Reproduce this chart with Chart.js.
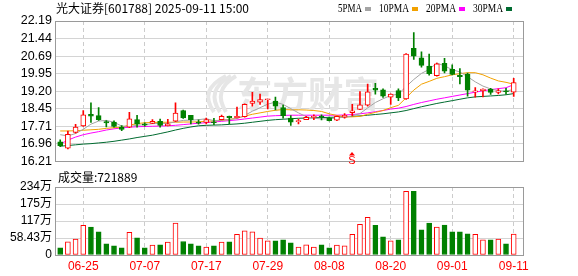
<!DOCTYPE html>
<html>
<head>
<meta charset="utf-8">
<script src="https://cdn.jsdelivr.net/npm/chart.js@4.4.1/dist/chart.umd.min.js"></script>
<style>
  body { margin: 0; background: #fff; }
  #wrap { position: relative; width: 578px; height: 276px; overflow: hidden; }
  canvas { position: absolute; left: 0; }
  #price-chart { top: 0; }
  #vol-chart { top: 166px; }
</style>
</head>
<body>
<div id="wrap">
  <canvas id="price-chart" width="578" height="172"></canvas>
  <canvas id="vol-chart" width="578" height="110"></canvas>
</div>
<script>
const title = "光大证券[601788] 2025-09-11 15:00";
const volTitle = "成交量:721889";

const dates = [
  "06-20", "06-23", "06-24", "06-25", "06-26", "06-27", "06-30", "07-01", "07-02", "07-03",
  "07-04", "07-07", "07-08", "07-09", "07-10", "07-11", "07-14", "07-15", "07-16", "07-17",
  "07-18", "07-21", "07-22", "07-23", "07-24", "07-25", "07-28", "07-29", "07-30", "07-31",
  "08-01", "08-04", "08-05", "08-06", "08-07", "08-08", "08-11", "08-12", "08-13", "08-14",
  "08-15", "08-18", "08-19", "08-20", "08-21", "08-22", "08-25", "08-26", "08-27", "08-28",
  "08-29", "09-01", "09-02", "09-03", "09-04", "09-05", "09-08", "09-09", "09-10", "09-11",
];
const open = [
  17.05, 16.78, 17.45, 17.72, 18.22, 18.16, 17.91, 17.89, 17.67, 17.67,
  17.99, 17.81, 17.83, 17.92, 17.73, 17.93, 18.38, 18.17, 17.88, 17.87,
  17.90, 17.99, 18.13, 18.08, 18.12, 18.68, 18.74, 18.84, 18.78, 18.50,
  18.06, 17.91, 17.99, 18.09, 18.12, 18.06, 17.97, 18.10, 18.29, 18.43,
  18.61, 19.33, 19.26, 18.95, 19.23, 18.87, 21.03, 20.62, 20.27, 19.86,
  20.39, 20.13, 19.88, 19.93, 19.17, 19.23, 19.29, 19.15, 19.22, 19.16,
];
const high = [
  17.13, 17.50, 17.79, 18.38, 18.71, 18.50, 17.95, 17.94, 17.74, 18.30,
  18.17, 17.86, 17.99, 18.02, 18.00, 18.71, 18.40, 18.18, 17.98, 18.06,
  18.05, 18.19, 18.14, 18.53, 18.66, 19.15, 19.08, 18.86, 18.95, 18.61,
  18.16, 18.02, 18.13, 18.20, 18.20, 18.10, 18.14, 18.25, 18.64, 19.19,
  19.51, 19.54, 19.30, 19.09, 19.30, 20.80, 21.70, 20.88, 20.78, 20.40,
  20.60, 20.32, 20.16, 19.97, 19.36, 19.30, 19.32, 19.30, 19.32, 19.75,
];
const low = [
  16.84, 16.75, 17.42, 17.70, 17.87, 17.96, 17.68, 17.67, 17.52, 17.65,
  17.67, 17.71, 17.82, 17.67, 17.72, 17.91, 18.04, 17.81, 17.80, 17.81,
  17.78, 17.98, 17.81, 18.07, 18.10, 18.56, 18.64, 18.45, 18.41, 18.05,
  17.75, 17.81, 17.99, 17.99, 17.98, 17.94, 17.95, 18.05, 18.15, 18.42,
  18.56, 19.08, 18.94, 18.64, 18.80, 18.85, 20.55, 20.23, 19.88, 19.84,
  19.98, 19.89, 19.51, 18.99, 18.95, 18.96, 19.07, 19.09, 19.08, 18.98,
];
const close = [
  16.88, 17.37, 17.67, 18.20, 18.14, 17.99, 17.85, 17.70, 17.58, 18.03,
  17.80, 17.76, 17.92, 17.75, 17.81, 18.27, 18.06, 17.99, 17.84, 17.99,
  17.86, 18.13, 18.08, 18.13, 18.64, 18.78, 18.85, 18.85, 18.57, 18.16,
  17.88, 17.92, 18.09, 18.11, 18.10, 17.95, 18.13, 18.18, 18.37, 18.62,
  19.17, 19.25, 18.99, 19.08, 18.92, 20.78, 20.69, 20.30, 19.95, 20.37,
  20.05, 19.92, 19.82, 19.25, 19.20, 19.29, 19.15, 19.22, 19.18, 19.57,
];
// 万股
const volume = [
  24.9, 45.4, 54.5, 102, 96.5, 79.5, 38.6, 31.7, 24.9, 78.4,
  59, 24.9, 34, 35, 44.3, 110, 46.4, 38.5, 31.7, 27.3,
  31.7, 44.3, 45.3, 71.5, 82.8, 79.4, 57.9, 48.7, 48.7, 52.1,
  41.9, 27.3, 35.1, 27.3, 35.1, 24.9, 34, 31.7, 71.5, 105.6,
  129.5, 102.2, 62.4, 48.7, 52.1, 219, 219, 86.2, 110, 96.4,
  103, 79.4, 79.4, 72.6, 71.5, 52.1, 52.1, 54.5, 38.5, 72.19,
];
const ma5 = [
  17.35, 17.30, 17.40, 17.58, 17.80, 17.93, 17.96, 17.88, 17.72, 17.70,
  17.75, 17.78, 17.82, 17.83, 17.83, 17.90, 17.96, 17.97, 17.99, 18.03,
  17.95, 17.97, 18.00, 18.04, 18.17, 18.35, 18.50, 18.65, 18.74, 18.64,
  18.46, 18.28, 18.12, 18.05, 18.02, 18.03, 18.06, 18.10, 18.15, 18.25,
  18.49, 18.72, 18.88, 19.02, 19.08, 19.40, 19.70, 19.96, 20.13, 20.40,
  20.28, 20.12, 20.02, 19.82, 19.60, 19.42, 19.30, 19.22, 19.20, 19.28,
];
const ma10 = [
  17.51, 17.51, 17.52, 17.54, 17.56, 17.58, 17.62, 17.65, 17.67, 17.76,
  17.82, 17.86, 17.87, 17.88, 17.88, 17.88, 17.89, 17.89, 17.90, 17.92,
  17.94, 17.96, 18.00, 18.05, 18.14, 18.22, 18.28, 18.34, 18.39, 18.42,
  18.41, 18.41, 18.40, 18.38, 18.34, 18.24, 18.17, 18.11, 18.11, 18.13,
  18.22, 18.30, 18.38, 18.50, 18.60, 18.92, 19.25, 19.50, 19.62, 19.75,
  19.82, 19.90, 19.95, 19.99, 19.99, 19.90, 19.76, 19.64, 19.58, 19.50,
];
const ma20 = [
  16.95, 17.12, 17.25, 17.35, 17.42, 17.48, 17.55, 17.60, 17.64, 17.67,
  17.69, 17.70, 17.71, 17.72, 17.73, 17.75, 17.78, 17.81, 17.84, 17.86,
  17.89, 17.92, 17.95, 17.98, 18.02, 18.06, 18.10, 18.14, 18.16, 18.17,
  18.18, 18.18, 18.18, 18.18, 18.18, 18.18, 18.18, 18.19, 18.21, 18.24,
  18.28, 18.33, 18.38, 18.44, 18.48, 18.55, 18.64, 18.72, 18.79, 18.86,
  18.92, 18.98, 19.04, 19.10, 19.16, 19.22, 19.27, 19.31, 19.35, 19.48,
];
const ma30 = [
  16.86, 16.89, 16.92, 16.95, 16.97, 17.00, 17.03, 17.07, 17.12, 17.17,
  17.23, 17.28, 17.33, 17.40, 17.47, 17.55, 17.62, 17.68, 17.73, 17.75,
  17.76, 17.77, 17.79, 17.81, 17.84, 17.88, 17.92, 17.96, 17.99, 18.01,
  18.03, 18.05, 18.06, 18.07, 18.08, 18.09, 18.10, 18.11, 18.13, 18.15,
  18.18, 18.21, 18.24, 18.28, 18.32, 18.38, 18.46, 18.54, 18.61, 18.68,
  18.74, 18.80, 18.86, 18.92, 18.96, 18.98, 19.00, 19.02, 19.05, 19.10,
];

const maLabels = ["5PMA", "10PMA", "20PMA", "30PMA"];
const maColors = ["#a4a4a4", "#f2a100", "#ff00ff", "#006b30"];
const priceTicks = ["16.21", "16.96", "17.71", "18.45", "19.20", "19.95", "20.69", "21.44", "22.19"];
const volTicks = ["0", "58.43万", "117万", "175万", "234万"];
const dateTicks = ["06-25", "07-07", "07-17", "07-29", "08-08", "08-20", "09-01", "09-11"];
const signals = [{ date: "08-13", text: "S" }];

const RED = "#ff0000";
const GREEN = "#008000";
const FONT = '"Liberation Sans", "Noto Sans CJK SC", sans-serif';

Chart.defaults.font.family = FONT;
Chart.defaults.font.size = 12;

const isUp = dates.map((_, i) => close[i] >= open[i]);

function xAxis(showLabels) {
  return {
    type: "linear",
    min: -0.677,
    max: 60.21,
    offset: false,
    afterBuildTicks: (axis) => {
      axis.ticks = dateTicks.map((d) => ({ value: dates.indexOf(d) }));
    },
    afterFit: (axis) => {
      axis.height = showLabels ? 21 : 0;
    },
    ticks: {
      display: showLabels,
      autoSkip: false,
      maxRotation: 0,
      color: RED,
      padding: 4,
      font: { size: 12 },
      callback: (v) => dates[v],
    },
    grid: { color: "#cccccc", drawTicks: false, offset: false },
    border: { display: false, dash: [4, 3] },
  };
}

function yAxis(labels, size) {
  const vals = labels.map((l) => parseFloat(l));
  return {
    min: vals[0],
    max: vals[vals.length - 1],
    afterBuildTicks: (axis) => {
      axis.ticks = vals.map((v) => ({ value: v }));
    },
    afterFit: (axis) => {
      axis.width = 55;
    },
    ticks: {
      autoSkip: false,
      color: "#000",
      padding: 3,
      font: { size: size },
      callback: (v, i) => labels[i],
    },
    grid: { color: "#d4d4d4", drawTicks: false },
    border: { display: false },
  };
}

const framePlugin = {
  id: "frame",
  afterDatasetsDraw(chart) {
    const { ctx, chartArea: a } = chart;
    const px = (v) => Math.round(v - 0.5) + 0.5;
    ctx.save();
    ctx.strokeStyle = "#9a9a9a";
    ctx.lineWidth = 1;
    ctx.strokeRect(px(a.left), px(a.top), px(a.right) - px(a.left), px(a.bottom) - px(a.top));
    ctx.restore();
  },
};

const headerPlugin = {
  id: "header",
  beforeDatasetsDraw(chart) {
    // watermark
    const { ctx } = chart;
    ctx.save();
    ctx.strokeStyle = "#e6e6e6";
    ctx.lineWidth = 4;
    for (let k = 0; k < 3; k++) {
      ctx.beginPath();
      ctx.moveTo(214 + k * 6, 112);
      ctx.quadraticCurveTo(198 + k * 7, 90, 226 + k * 5, 76);
      ctx.stroke();
    }
    ctx.fillStyle = "#e6e6e6";
    ctx.font = 'bold 36px "Noto Sans CJK SC"';
    ctx.textBaseline = "middle";
    ctx.fillText("东方财富", 237, 94, 142);
    ctx.restore();
  },
  afterDraw(chart) {
    const { ctx } = chart;
    ctx.save();
    ctx.textBaseline = "middle";
    ctx.fillStyle = "#000";
    ctx.font = '12px "Noto Sans CJK SC"';
    ctx.fillText(title, 56, 8.5);

    let x = 338;
    maLabels.forEach((label, i) => {
      const w = label.length * 6;
      ctx.fillStyle = "#000";
      ctx.font = '13px "Liberation Serif"';
      ctx.fillText(label, x, 9, w);
      ctx.fillStyle = maColors[i];
      ctx.fillRect(x + w + 3, 7, 6, 4);
      x += w + 17;
    });

    const xs = chart.scales.x;
    ctx.fillStyle = RED;
    ctx.font = '11px "Liberation Sans"';
    ctx.textAlign = "center";
    for (const s of signals) {
      const sx = Math.round(xs.getPixelForValue(dates.indexOf(s.date)));
      ctx.beginPath();
      ctx.moveTo(sx, 152);
      ctx.lineTo(sx - 3, 155.5);
      ctx.lineTo(sx + 3, 155.5);
      ctx.closePath();
      ctx.fill();
      ctx.fillText(s.text, sx, 161);
    }
    ctx.restore();
  },
};

const volTitlePlugin = {
  id: "volTitle",
  afterDraw(chart) {
    const { ctx } = chart;
    ctx.save();
    ctx.textBaseline = "middle";
    ctx.fillStyle = "#000";
    ctx.font = '12px "Noto Sans CJK SC"';
    ctx.fillText(volTitle, 58, 11);
    ctx.restore();
  },
};

const maSets = [ma5, ma10, ma20, ma30].map((ma, k) => ({
  type: "line",
  label: maLabels[k],
  data: ma.map((v, i) => ({ x: i, y: v })),
  borderColor: maColors[k],
  borderWidth: 1,
  pointRadius: 0,
  tension: 0,
  order: 2,
}));

new Chart(document.getElementById("price-chart"), {
  type: "bar",
  data: {
    datasets: [
      {
        label: "body",
        data: dates.map((_, i) => ({ x: i, y: [open[i], close[i]] })),
        backgroundColor: isUp.map((u) => (u ? "#ffffff" : GREEN)),
        borderColor: isUp.map((u) => (u ? RED : GREEN)),
        borderWidth: 1,
        borderSkipped: false,
        barThickness: 5,
        minBarLength: 1,
        grouped: false,
        order: 0,
      },
      {
        label: "wick",
        data: dates.map((_, i) => ({ x: i, y: [low[i], high[i]] })),
        backgroundColor: isUp.map((u) => (u ? RED : GREEN)),
        borderWidth: 0,
        barThickness: 1,
        grouped: false,
        order: 1,
      },
      ...maSets,
    ],
  },
  options: {
    responsive: false,
    animation: false,
    devicePixelRatio: 1,
    layout: { padding: { top: 21, right: 55, bottom: 7, left: 0 } },
    plugins: { legend: { display: false }, tooltip: { enabled: false } },
    scales: {
      x: xAxis(false),
      y: yAxis(priceTicks, 12.5),
    },
  },
  plugins: [headerPlugin, framePlugin],
});

new Chart(document.getElementById("vol-chart"), {
  type: "bar",
  data: {
    datasets: [
      {
        label: "volume",
        data: volume.map((v, i) => ({ x: i, y: v })),
        backgroundColor: isUp.map((u) => (u ? "#ffffff" : GREEN)),
        borderColor: isUp.map((u) => (u ? RED : GREEN)),
        borderWidth: 1,
        borderSkipped: false,
        barThickness: 5,
        grouped: false,
      },
    ],
  },
  options: {
    responsive: false,
    animation: false,
    devicePixelRatio: 1,
    layout: { padding: { top: 21, right: 55, bottom: 0, left: 0 } },
    plugins: { legend: { display: false }, tooltip: { enabled: false } },
    scales: {
      x: xAxis(true),
      y: yAxis(volTicks, 12),
    },
  },
  plugins: [volTitlePlugin, framePlugin],
});
</script>
</body>
</html>
